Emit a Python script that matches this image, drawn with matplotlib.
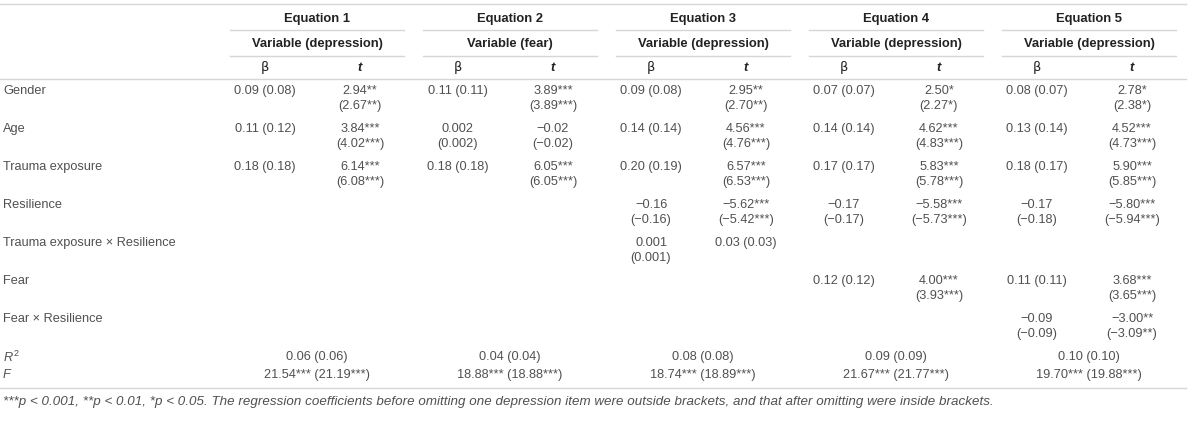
import matplotlib.pyplot as plt

plt.rcParams['font.family'] = ['Liberation Sans', 'DejaVu Sans']
plt.rcParams['mathtext.fontset'] = 'custom'
plt.rcParams['mathtext.it'] = 'Liberation Sans:italic'
plt.rcParams['mathtext.rm'] = 'Liberation Sans'

M = '\u2212'  # minus sign

eq_titles = ['Equation 1', 'Equation 2', 'Equation 3', 'Equation 4', 'Equation 5']
eq_vars = ['Variable (depression)', 'Variable (fear)', 'Variable (depression)',
           'Variable (depression)', 'Variable (depression)']
row_labels = ['Gender', 'Age', 'Trauma exposure', 'Resilience',
              'Trauma exposure \u00d7 Resilience', 'Fear', 'Fear \u00d7 Resilience']

# beta and t per equation, one entry per row ('' = empty cell)
beta_eq1 = ['0.09 (0.08)', '0.11 (0.12)', '0.18 (0.18)', '', '', '', '']
t_eq1 = ['2.94**\n(2.67**)', '3.84***\n(4.02***)', '6.14***\n(6.08***)', '', '', '', '']
beta_eq2 = ['0.11 (0.11)', '0.002\n(0.002)', '0.18 (0.18)', '', '', '', '']
t_eq2 = ['3.89***\n(3.89***)', M + '0.02\n(' + M + '0.02)', '6.05***\n(6.05***)', '', '', '', '']
beta_eq3 = ['0.09 (0.08)', '0.14 (0.14)', '0.20 (0.19)', M + '0.16\n(' + M + '0.16)',
            '0.001\n(0.001)', '', '']
t_eq3 = ['2.95**\n(2.70**)', '4.56***\n(4.76***)', '6.57***\n(6.53***)',
         M + '5.62***\n(' + M + '5.42***)', '0.03 (0.03)', '', '']
beta_eq4 = ['0.07 (0.07)', '0.14 (0.14)', '0.17 (0.17)', M + '0.17\n(' + M + '0.17)',
            '', '0.12 (0.12)', '']
t_eq4 = ['2.50*\n(2.27*)', '4.62***\n(4.83***)', '5.83***\n(5.78***)',
         M + '5.58***\n(' + M + '5.73***)', '', '4.00***\n(3.93***)', '']
beta_eq5 = ['0.08 (0.07)', '0.13 (0.14)', '0.18 (0.17)', M + '0.17\n(' + M + '0.18)',
            '', '0.11 (0.11)', M + '0.09\n(' + M + '0.09)']
t_eq5 = ['2.78*\n(2.38*)', '4.52***\n(4.73***)', '5.90***\n(5.85***)',
         M + '5.80***\n(' + M + '5.94***)', '', '3.68***\n(3.65***)',
         M + '3.00**\n(' + M + '3.09**)']

r2_values = ['0.06 (0.06)', '0.04 (0.04)', '0.08 (0.08)', '0.09 (0.09)', '0.10 (0.10)']
f_values = ['21.54*** (21.19***)', '18.88*** (18.88***)', '18.74*** (18.89***)',
            '21.67*** (21.77***)', '19.70*** (19.88***)']

footnote = ('***p < 0.001, **p < 0.01, *p < 0.05. The regression coefficients before omitting '
            'one depression item were outside brackets, and that after omitting were inside brackets.')

betas = [beta_eq1, beta_eq2, beta_eq3, beta_eq4, beta_eq5]
ts = [t_eq1, t_eq2, t_eq3, t_eq4, t_eq5]

fig = plt.figure(figsize=(12, 4.23), dpi=100)
ax = fig.add_axes([0, 0, 1, 1])
ax.set_xlim(0, 1200)
ax.set_ylim(423, 0)
ax.axis('off')

body = '#505050'
head = '#222222'
line_c = '#d6d6d6'
fs = 9.2
hfs = 9.4

# horizontal rules
ax.plot([0, 1186], [4, 4], color=line_c, lw=1)
ax.plot([0, 1186], [79, 79], color=line_c, lw=1)
ax.plot([0, 1186], [388, 388], color=line_c, lw=1)

row_y = [91, 129, 167, 205, 243, 281, 319]

for i in range(5):
    c = 317 + 193 * i
    xb = c - 52
    xt = c + 43
    ax.text(c, 19, eq_titles[i], ha='center', va='center', fontsize=hfs,
            fontweight='bold', color=head)
    ax.plot([c - 87, c + 87], [30, 30], color=line_c, lw=1)
    ax.text(c, 44, eq_vars[i], ha='center', va='center', fontsize=hfs,
            fontweight='bold', color=head)
    ax.plot([c - 87, c + 87], [56, 56], color=line_c, lw=1)
    ax.text(xb, 68, '\u03b2', ha='center', va='center', fontsize=hfs,
            color=head, family='DejaVu Sans')
    ax.text(xt, 68, 't', ha='center', va='center', fontsize=hfs,
            fontweight='bold', style='italic', color=head)
    for j, y in enumerate(row_y):
        if betas[i][j]:
            ax.text(xb, y - 6, betas[i][j], ha='center', va='top', fontsize=fs,
                    color=body, linespacing=1.35, multialignment='center')
        if ts[i][j]:
            ax.text(xt, y - 6, ts[i][j], ha='center', va='top', fontsize=fs,
                    color=body, linespacing=1.35, multialignment='center')
    ax.text(c, 357, r2_values[i], ha='center', va='center', fontsize=fs, color=body)
    ax.text(c, 375, f_values[i], ha='center', va='center', fontsize=fs, color=body)

for j, y in enumerate(row_y):
    ax.text(3, y, row_labels[j], ha='left', va='center', fontsize=fs, color=body)

ax.text(3, 357, '$R^2$', ha='left', va='center', fontsize=fs, color=body)
ax.text(3, 375, 'F', ha='left', va='center', fontsize=fs, color=body, style='italic')
ax.text(3, 402, footnote, ha='left', va='center', fontsize=9.6, color=body, style='italic')

fig.savefig('out.png', dpi=100)
